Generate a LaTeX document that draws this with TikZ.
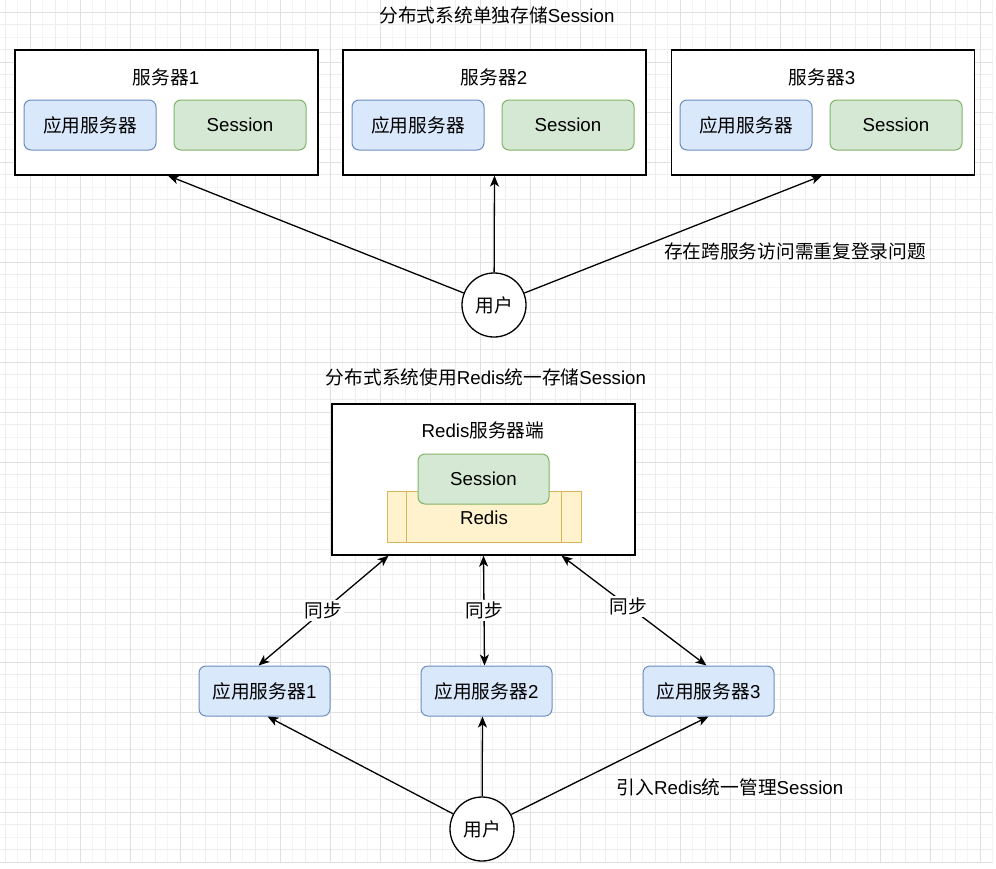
\documentclass[tikz,border=0pt]{standalone}
\usepackage{fontspec}
\setmainfont{Liberation Sans}
\newfontfamily\cjk{Noto Sans CJK SC}
\usetikzlibrary{arrows.meta,calc}
\definecolor{bluef}{HTML}{DAE8FC}
\definecolor{blued}{HTML}{6C8EBF}
\definecolor{greenf}{HTML}{D5E8D4}
\definecolor{greend}{HTML}{82B366}
\definecolor{yellowf}{HTML}{FFF2CC}
\definecolor{yellowd}{HTML}{D6B656}
\definecolor{gmaj}{HTML}{E0E0E0}
\definecolor{gmid}{HTML}{EDEDED}
\definecolor{gmin}{HTML}{F5F5F5}
\tikzset{
  fs/.style={font=\fontsize{18.7}{22}\selectfont},
  txt/.style={fs, inner sep=0pt},
  frame/.style={draw=black, fill=white, line width=1.3pt, minimum width=303pt, minimum height=125pt, inner sep=0pt},
  appbox/.style={draw=blued, fill=bluef, line width=1pt, rounded corners=7pt, minimum width=132pt, minimum height=50pt, inner sep=0pt, fs},
  sessbox/.style={draw=greend, fill=greenf, line width=1pt, rounded corners=7pt, minimum width=132pt, minimum height=50pt, inner sep=0pt, fs},
  userc/.style={circle, draw=black, fill=white, line width=1.3pt, minimum size=64pt, inner sep=0pt, fs},
  arr/.style={line width=1.3pt, -{Stealth[length=11pt,width=9pt,inset=3pt]}},
  biarr/.style={line width=1.3pt, {Stealth[length=11pt,width=9pt,inset=3pt]}-{Stealth[length=11pt,width=9pt,inset=3pt]}},
  synclab/.style={fill=white, inner sep=2pt, font=\fontsize{18.7}{22}\selectfont\cjk}
}
\begin{document}
\begin{tikzpicture}[x=1pt,y=-1pt]
\useasboundingbox (0,0) rectangle (996,868);
% background grid
\foreach \i in {0,...,79} {
  \draw[gmin, line width=0.8pt] ({5+12.5*\i},0) -- ({5+12.5*\i},863);
}
\foreach \i in {0,...,69} {
  \draw[gmin, line width=0.8pt] (0,{-0.5+12.5*\i}) -- (993,{-0.5+12.5*\i});
}
\foreach \i in {0,...,39} {
  \draw[gmid, line width=0.8pt] ({5+25*\i},0) -- ({5+25*\i},863);
}
\foreach \i in {0,...,34} {
  \draw[gmid, line width=0.8pt] (0,{-0.5+25*\i}) -- (993,{-0.5+25*\i});
}
\foreach \i in {0,...,19} {
  \draw[gmaj, line width=0.8pt] ({30+50*\i},0) -- ({30+50*\i},863);
}
\foreach \i in {0,...,17} {
  \draw[gmaj, line width=0.8pt] (0,{12+50*\i}) -- (993,{12+50*\i});
}

% ---------- top part ----------
\node[txt] (t1) at (497,15) {{\cjk 分布式系统单独存储}Session};

\node[frame] (s1) at (166.5,112.5) {};
\node[frame] (s2) at (494.5,112.5) {};
\node[frame] (s3) at (823,112.5) {};

\node[txt] (s1l) at (166,77) {{\cjk 服务器}1};
\node[txt] (s2l) at (494,77) {{\cjk 服务器}2};
\node[txt] (s3l) at (822,77) {{\cjk 服务器}3};

\node[appbox] (s1a) at (90,125) {\cjk 应用服务器};
\node[sessbox] (s1s) at (240,125) {Session};
\node[appbox] (s2a) at (418,125) {\cjk 应用服务器};
\node[sessbox] (s2s) at (568,125) {Session};
\node[appbox] (s3a) at (746,125) {\cjk 应用服务器};
\node[sessbox] (s3s) at (896,125) {Session};

\node[userc] (u1) at (494,305) {\cjk 用户};
\draw[arr] (u1) -- ($(s1.south)+(1.5,0)$);
\draw[arr] (u1) -- (s2.south);
\draw[arr] (u1) -- ($(s3.south)+(-1,0)$);

\node[txt] (note1) at (795,251) {\cjk 存在跨服务访问需重复登录问题};

% ---------- bottom part ----------
\node[txt] (t2) at (486,377) {{\cjk 分布式系统使用}Redis{\cjk 统一存储}Session};

\node[frame, minimum width=303pt, minimum height=151pt] (r) at (483.5,479.5) {};
\node[txt] (rl) at (483,430) {Redis{\cjk 服务器端}};

\node[draw=yellowd, fill=yellowf, line width=1pt, minimum width=194pt, minimum height=51pt, inner sep=0pt] (rd) at (484,516.5) {};
\draw[yellowd, line width=1pt] ($(rd.north west)+(20,0)$) -- ($(rd.south west)+(20,0)$);
\draw[yellowd, line width=1pt] ($(rd.north east)+(-20,0)$) -- ($(rd.south east)+(-20,0)$);
\node[txt] (rdl) at (484,518) {Redis};
\node[sessbox, minimum width=131pt] (rs) at (483.5,479) {Session};

\node[appbox, minimum width=131pt] (a1) at (264.5,691) {{\cjk 应用服务器}1};
\node[appbox, minimum width=131pt] (a2) at (486.5,691) {{\cjk 应用服务器}2};
\node[appbox, minimum width=131pt] (a3) at (708.5,691) {{\cjk 应用服务器}3};

\draw[biarr] ($(r.south)+(-95,0)$) -- node[synclab, pos=0.5] {同步} ($(a1.north)+(-6,0)$);
\draw[biarr] (r.south) -- node[synclab, pos=0.5] {同步} ($(a2.north)+(-2,0)$);
\draw[biarr] ($(r.south)+(78,0)$) -- node[synclab, pos=0.46] {同步} ($(a3.north)+(-2,0)$);

\node[userc] (u2) at (482,829) {\cjk 用户};
\draw[arr] (u2) -- ($(a1.south)+(3,0)$);
\draw[arr] (u2) -- ($(a2.south)+(-4,0)$);
\draw[arr] (u2) -- (a3.south);

\node[txt] (note2) at (730,787) {{\cjk 引入}Redis{\cjk 统一管理}Session};
\end{tikzpicture}
\end{document}
